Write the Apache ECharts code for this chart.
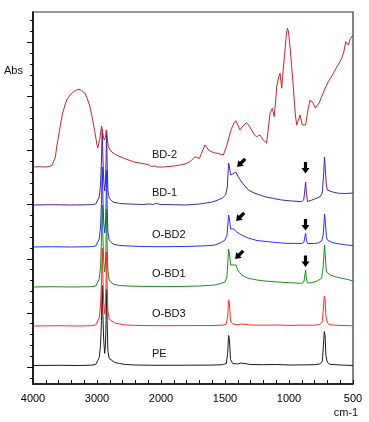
<!DOCTYPE html>
<html><head><meta charset="utf-8">
<script src="https://cdn.jsdelivr.net/npm/echarts@6/dist/echarts.min.js"></script>
<style>html,body{margin:0;padding:0;background:#fff}#c{width:369px;height:422px}</style>
</head><body><div id="c"></div>
<script>
// ---- data (wavenumber cm-1, absorbance relative to each trace's baseline) ----
const xTickLabels = [4000, 3000, 2000, 1500, 1000, 500];
const seriesNames = ['PE', 'O-BD3', 'O-BD1', 'O-BD2', 'BD-1', 'BD-2'];
const offsets = [0.185, 0.58, 0.97, 1.37, 1.79, 2.17];
const colors = ['#1a1a1a', '#ff2a2a', '#1e8c1e', '#2233ff', '#4a23a0', '#c0282d'];

const PE = [[4000,0],[3600,0.002],[3300,0],[3100,0.003],[3020,0.01],[2990,0.03],[2965,0.08],[2945,0.2],[2930,0.45],[2918,0.8],[2908,0.5],[2895,0.25],[2880,0.12],[2868,0.2],[2858,0.45],[2850,0.76],[2842,0.45],[2830,0.15],[2810,0.07],[2780,0.05],[2720,0.03],[2650,0.02],[2550,0.01],[2400,0.005],[2200,0.003],[2000,0.002],[1800,0.003],[1600,0.004],[1520,0.008],[1490,0.02],[1479,0.12],[1472,0.3],[1465,0.26],[1457,0.06],[1440,0.02],[1400,0.015],[1375,0.025],[1360,0.02],[1300,0.01],[1200,0.008],[1100,0.01],[1000,0.005],[900,0.006],[800,0.008],[760,0.015],[740,0.04],[731,0.2],[724,0.34],[718,0.3],[712,0.1],[700,0.03],[680,0.012],[600,0.005],[500,0]];
const OBD3 = [[4000,0],[3600,0.003],[3300,0],[3100,0.003],[3020,0.01],[2990,0.03],[2965,0.08],[2945,0.2],[2930,0.44],[2918,0.78],[2908,0.48],[2895,0.24],[2880,0.12],[2868,0.2],[2858,0.44],[2850,0.74],[2842,0.43],[2830,0.15],[2810,0.07],[2780,0.05],[2720,0.03],[2650,0.02],[2550,0.01],[2400,0.006],[2200,0.004],[2000,0.003],[1800,0.004],[1600,0.005],[1520,0.008],[1490,0.02],[1479,0.1],[1472,0.26],[1465,0.22],[1457,0.05],[1440,0.02],[1400,0.012],[1370,0.02],[1300,0.01],[1200,0.008],[1100,0.01],[1000,0.006],[900,0.008],[800,0.008],[760,0.015],[740,0.04],[731,0.18],[724,0.3],[718,0.27],[712,0.1],[700,0.03],[680,0.012],[600,0.006],[500,0.002]];
const OBD1 = [[4000,0],[3700,0.003],[3400,0],[3100,0.003],[3020,0.01],[2990,0.03],[2965,0.08],[2945,0.2],[2930,0.48],[2918,0.82],[2908,0.5],[2895,0.26],[2880,0.15],[2868,0.23],[2858,0.47],[2850,0.78],[2842,0.44],[2830,0.16],[2810,0.07],[2797,0.05],[2750,0.03],[2650,0.015],[2500,0.01],[2300,0.006],[2000,0.004],[1850,0.005],[1700,0.01],[1578,0.02],[1530,0.035],[1500,0.05],[1485,0.1],[1472,0.38],[1465,0.33],[1456,0.22],[1445,0.21],[1430,0.22],[1414,0.22],[1400,0.17],[1370,0.12],[1340,0.1],[1318,0.087],[1250,0.07],[1188,0.06],[1120,0.053],[1057,0.047],[980,0.042],[901,0.037],[884,0.05],[876,0.12],[870,0.17],[864,0.08],[855,0.04],[823,0.043],[780,0.06],[745,0.087],[733,0.2],[722,0.42],[716,0.3],[708,0.15],[700,0.13],[677,0.12],[630,0.1],[586,0.087],[540,0.075],[500,0.06]];
const OBD2 = [[4000,0],[3700,0.003],[3400,0],[3100,0.003],[3020,0.01],[2990,0.03],[2965,0.08],[2945,0.2],[2930,0.45],[2918,0.8],[2908,0.5],[2895,0.25],[2880,0.14],[2868,0.22],[2858,0.45],[2850,0.77],[2842,0.42],[2830,0.15],[2810,0.07],[2797,0.05],[2750,0.03],[2650,0.015],[2500,0.01],[2300,0.005],[2000,0.003],[1800,0.005],[1650,0.012],[1578,0.02],[1530,0.045],[1500,0.07],[1484,0.12],[1472,0.32],[1465,0.28],[1456,0.18],[1445,0.17],[1430,0.18],[1410,0.15],[1390,0.135],[1370,0.12],[1330,0.095],[1292,0.08],[1250,0.065],[1162,0.053],[1100,0.045],[1031,0.037],[960,0.036],[900,0.035],[884,0.045],[876,0.1],[870,0.137],[864,0.07],[855,0.035],[800,0.035],[773,0.04],[745,0.06],[733,0.12],[722,0.33],[716,0.25],[708,0.1],[700,0.07],[680,0.055],[650,0.04],[600,0.03],[550,0.02],[500,0.015]];
const BD1 = [[4000,0],[3700,0.003],[3400,0],[3100,0.003],[3020,0.01],[2990,0.03],[2965,0.08],[2945,0.2],[2930,0.45],[2918,0.76],[2908,0.48],[2895,0.25],[2880,0.14],[2868,0.22],[2858,0.45],[2850,0.75],[2842,0.42],[2830,0.15],[2810,0.07],[2797,0.05],[2750,0.03],[2650,0.015],[2500,0.01],[2300,0.005],[2180,0.01],[2150,0.02],[2120,0.005],[2080,0.018],[2040,0.01],[2000,0.005],[1900,0.003],[1812,0],[1700,0.01],[1600,0.03],[1555,0.05],[1520,0.07],[1495,0.1],[1482,0.18],[1472,0.42],[1465,0.38],[1456,0.3],[1440,0.31],[1416,0.33],[1395,0.28],[1370,0.23],[1345,0.19],[1318,0.15],[1280,0.125],[1240,0.105],[1188,0.083],[1120,0.065],[1058,0.05],[980,0.04],[901,0.033],[885,0.05],[876,0.15],[870,0.23],[864,0.12],[855,0.035],[830,0.045],[800,0.06],[757,0.083],[740,0.12],[730,0.3],[722,0.48],[716,0.35],[708,0.2],[700,0.15],[660,0.13],[611,0.117],[560,0.115],[500,0.12]];
const BD2 = [[4000,0],[3900,0.003],[3800,0],[3740,0.005],[3700,0.02],[3680,0.04],[3650,0.1],[3630,0.2],[3600,0.31],[3578,0.4],[3540,0.53],[3500,0.62],[3474,0.67],[3420,0.72],[3370,0.75],[3320,0.77],[3281,0.777],[3240,0.765],[3187,0.737],[3150,0.68],[3109,0.6],[3070,0.48],[3031,0.34],[3005,0.24],[2990,0.19],[2975,0.2],[2955,0.28],[2940,0.36],[2927,0.41],[2915,0.36],[2900,0.3],[2885,0.27],[2868,0.3],[2855,0.37],[2843,0.3],[2825,0.21],[2797,0.17],[2750,0.14],[2700,0.12],[2640,0.103],[2550,0.08],[2433,0.053],[2300,0.035],[2200,0.025],[2172,0.02],[2150,0.005],[2140,-0.01],[2125,0.005],[2100,0.01],[2060,0],[2040,0.008],[1982,0],[1900,0.01],[1850,0.02],[1812,0.03],[1780,0.05],[1760,0.07],[1734,0.103],[1720,0.09],[1700,0.085],[1680,0.15],[1656,0.22],[1640,0.19],[1620,0.16],[1604,0.153],[1580,0.14],[1552,0.137],[1530,0.125],[1513,0.12],[1495,0.18],[1474,0.27],[1460,0.34],[1448,0.387],[1430,0.44],[1416,0.463],[1400,0.42],[1383,0.37],[1360,0.41],[1331,0.443],[1310,0.41],[1292,0.37],[1270,0.32],[1253,0.303],[1240,0.31],[1227,0.32],[1200,0.27],[1175,0.237],[1160,0.4],[1148,0.537],[1130,0.587],[1115,0.503],[1105,0.65],[1096,0.803],[1080,0.9],[1070,0.937],[1063,0.86],[1057,0.787],[1045,0.98],[1031,1.17],[1020,1.33],[1013,1.387],[1005,1.36],[1000,1.303],[990,1.17],[979,1.003],[968,0.83],[959,0.67],[950,0.52],[940,0.42],[927,0.47],[914,0.52],[905,0.47],[896,0.42],[885,0.41],[870,0.42],[855,0.55],[836,0.67],[822,0.65],[810,0.637],[795,0.59],[784,0.57],[765,0.64],[745,0.703],[720,0.78],[693,0.853],[665,0.91],[640,0.97],[612,1.03],[588,1.087],[570,1.16],[557,1.253],[545,1.24],[536,1.22],[525,1.27],[510,1.303],[500,1.32]];
const spectra = [PE, OBD3, OBD1, OBD2, BD1, BD2];

// ---- broken wavenumber axis: 4000-2000 compressed 2x relative to 2000-500 ----
function toAxis(w) { return w >= 2000 ? (4000 - w) / 2 : 1000 + (2000 - w); }

const chart = echarts.init(document.getElementById('c'), null, { renderer: 'canvas' });
const FONT = 'Liberation Sans, Arial, sans-serif';

const hiddenX = (g) => ({ gridIndex: g, type: 'value', min: 0, max: 1, show: false });
const tickY = (g, max, len) => ({
  gridIndex: g, type: 'value', min: 0, max: max, interval: 1, position: 'left',
  axisLine: { show: false, onZero: false }, axisLabel: { show: false }, splitLine: { show: false },
  axisTick: { show: true, inside: false, length: len, lineStyle: { color: '#000', width: 1 } }
});

const series = spectra.map((pts, i) => ({
  name: seriesNames[i], type: 'line', xAxisIndex: 0, yAxisIndex: 0,
  showSymbol: false, symbol: 'none', animation: false, clip: true,
  lineStyle: { width: 1, color: colors[i] },
  data: pts.map(([w, a]) => [toAxis(w), offsets[i] + a])
}));

function arrow(x, y, rot) {
  return { type: 'polygon', x: x, y: y, rotation: rot, silent: true,
    shape: { points: [[-1.6,-6],[1.6,-6],[1.6,0],[4,0],[0,5.5],[-4,0],[-1.6,0]] },
    style: { fill: '#000' } };
}
function label(text, x, y, align) {
  return { type: 'text', x: x, y: y, silent: true,
    style: { text: text, font: '11px ' + FONT, fill: '#111', align: align || 'left', verticalAlign: 'middle' } };
}
const labelY = [354, 314, 274, 235, 193, 155];

chart.setOption({
  animation: false,
  backgroundColor: '#fff',
  grid: [
    { left: 33, right: 16, top: 12, bottom: 38, show: true, borderColor: '#333', borderWidth: 1.2,
      backgroundColor: 'transparent', outerBoundsMode: 'none', containLabel: false },
    { left: 33, right: 16, top: 42.3, bottom: 55, outerBoundsMode: 'none', containLabel: false },
    { left: 33, right: 16, top: 20.7, bottom: 44.2, outerBoundsMode: 'none', containLabel: false }
  ],
  xAxis: [
    { gridIndex: 0, type: 'value', min: 0, max: 2500, interval: 500, position: 'bottom',
      axisLine: { show: true, onZero: false, lineStyle: { color: '#000', width: 1.5 } },
      axisTick: { show: true, inside: true, length: 4, lineStyle: { color: '#000', width: 1 } },
      minorTick: { show: true, splitNumber: 5, length: 4, lineStyle: { color: '#000', width: 1 } },
      splitLine: { show: false }, minorSplitLine: { show: false },
      axisLabel: { show: true, margin: 9, color: '#000', fontSize: 11, fontFamily: FONT,
        formatter: (v) => { const l = xTickLabels.find(w => Math.abs(toAxis(w) - v) < 1e-6); return l === undefined ? '' : String(l); } } },
    hiddenX(1), hiddenX(2)
  ],
  yAxis: [
    { gridIndex: 0, type: 'value', min: 0, max: 3.72, position: 'left',
      axisLine: { show: true, onZero: false, lineStyle: { color: '#000', width: 1.5 } },
      axisTick: { show: false }, axisLabel: { show: false }, splitLine: { show: false } },
    tickY(1, 6, 6),
    tickY(2, 33, 3)
  ],
  series: series,
  graphic: [
    label('Abs', 4, 71),
    label('cm-1', 346, 413, 'center'),
    ...seriesNames.map((n, i) => label(n, 152, labelY[i])),
    arrow(241, 163, -Math.PI / 4), arrow(305.5, 168, 0),
    arrow(240, 217, -Math.PI / 4), arrow(305.5, 225, 0),
    arrow(239, 255, -Math.PI / 4), arrow(305.5, 261.5, 0)
  ]
});
</script>
</body></html>
